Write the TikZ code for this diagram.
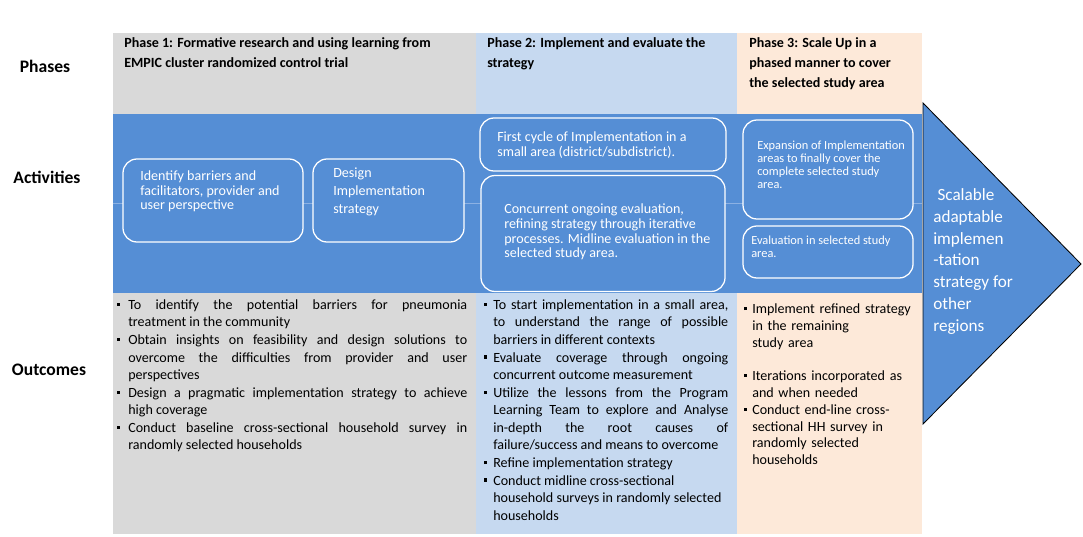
\documentclass[tikz,border=0pt]{standalone}
\usepackage{fontspec}
\setmainfont{Carlito}
\usetikzlibrary{positioning}
\definecolor{phaseGray}{RGB}{217,217,217}
\definecolor{phaseBlue}{RGB}{198,217,240}
\definecolor{phasePeach}{RGB}{253,233,217}
\definecolor{bandBlue}{RGB}{85,142,213}
\definecolor{lineBlue}{RGB}{140,177,227}
\newlength{\bulind}
\newcommand{\bitem}{\par\noindent\hangindent=\bulind\hangafter=1%
  \makebox[\bulind][l]{\raisebox{0.25em}{\rule{2.2pt}{2.2pt}}}}
\newcommand{\nohyph}{\hyphenpenalty=10000\relax\exhyphenpenalty=10000\relax\tolerance=9999\relax}
\tikzset{
  colBox/.style={fill=#1,inner sep=0pt,outer sep=0pt,minimum height=125.25mm},
  actBox/.style={draw=white,fill=bandBlue,line width=0.9pt,rounded corners=3.5mm,
                 inner sep=0pt,minimum height=#1},
  actText/.style={anchor=north west,inner sep=0pt,text=white,align=left,
                  font=\fontsize{10}{10.3}\selectfont},
  hdrText/.style={anchor=north west,inner sep=0pt,align=left,
                  font=\fontsize{10}{14.2}\selectfont\bfseries},
  rowLabel/.style={inner sep=0pt,font=\fontsize{12.5}{15}\selectfont\bfseries},
  outText/.style={anchor=north west,inner sep=0pt,text width=#1,
                  font=\fontsize{10}{12.5}\selectfont},
}

\begin{document}
\begin{tikzpicture}[x=0.25mm,y=-0.25mm]
  \useasboundingbox[fill=white] (0,0) rectangle (1083,537);
  % phase columns
  \node[colBox=phaseGray,minimum width=90.75mm](col1) at (294.5,283.5){};
  \node[colBox=phaseBlue,minimum width=65.25mm](col2) at (606.5,283.5){};
  \node[colBox=phasePeach,minimum width=46.25mm](col3) at (829.5,283.5){};
  % activities band
  \node[fill=bandBlue,inner sep=0pt,outer sep=0pt,minimum width=202.25mm,
        minimum height=44.75mm](band) at (517.5,203.5){};
  \draw[lineBlue,line width=0.6pt](band.west)--(band.east);
  % row labels
  \node[rowLabel](lPhases) at (45,66){Phases};
  \node[rowLabel](lAct) at (47,177){Activities};
  \node[rowLabel](lOut) at (49,370){Outcomes};
  % headers
  \node[hdrText](h1) at (124,37.5)
      {Phase 1: Formative research and using learning from\\EMPIC cluster randomized control trial};
  \node[hdrText](h2) at (487,37.5){Phase 2: Implement and evaluate the\\strategy};
  \node[hdrText](h3) at (749,37.5){Phase 3: Scale Up in a\\phased manner to cover\\the selected study area};
  % activity boxes
  \node[actBox=20.75mm,minimum width=45mm](a1) at (213,200.5){};
  \node[actBox=20.75mm,minimum width=37.75mm](a2) at (388.5,200.5){};
  \node[actBox=13.25mm,minimum width=61.5mm](b1) at (603,144.5){};
  \node[actBox=29mm,minimum width=61mm](b2) at (603,233.5){};
  \node[actBox=24.75mm,minimum width=42.5mm](c1) at (828,169.5){};
  \node[actBox=13mm,minimum width=42.5mm](c2) at (828,252){};
  \node[actText](a1t) at (140,170.5){Identify barriers and\\facilitators, provider and\\user perspective};
  \node[actText,font=\fontsize{10}{12.8}\selectfont](a2t) at (333,167.5){Design\\Implementation\\strategy};
  \node[actText](b1t) at (497,131.5){First cycle of Implementation in a\\small area (district/subdistrict).};
  \node[actText,font=\fontsize{10}{10.5}\selectfont](b2t) at (504,203.5)
      {Concurrent ongoing evaluation,\\refining strategy through iterative\\processes. Midline evaluation in the\\selected study area.};
  \node[actText,font=\fontsize{8.8}{9.25}\selectfont](c1t) at (757,140.5)
      {Expansion of Implementation\\areas to finally cover the\\complete selected study\\area.};
  \node[actText,font=\fontsize{8.8}{9.25}\selectfont](c2t) at (751,235.5){Evaluation in selected study\\area.};
  % outcomes
  \node[outText=87.5mm,align=justify](o1) at (117,291.5){\nohyph\setlength{\bulind}{2.75mm}%
    \bitem To identify the potential barriers for pneumonia\linebreak treatment in the community
    \bitem Obtain insights on feasibility and design solutions to\linebreak overcome the difficulties from provider and user\linebreak perspectives
    \bitem Design a pragmatic implementation strategy to achieve\linebreak high coverage
    \bitem Conduct baseline cross-sectional household survey in\linebreak randomly selected households\par};
  \node[outText=61mm,align=justify](o2) at (484,291.5){\nohyph\setlength{\bulind}{2.25mm}%
    \bitem To start implementation in a small area,\linebreak to understand the range of possible\linebreak barriers in different contexts
    \bitem Evaluate coverage through ongoing\linebreak concurrent outcome measurement
    \bitem Utilize the lessons from the Program\linebreak Learning Team to explore and Analyse\linebreak in-depth the root causes of\linebreak failure/success and means to overcome
    \bitem Refine implementation strategy
    \bitem Conduct midline cross-sectional\newline household surveys in randomly selected\newline households\par};
  \node[outText=43.75mm,align=left,font=\fontsize{10}{12}\selectfont](o3) at (744,296.5){\nohyph\setlength{\bulind}{2mm}%
    \bitem Implement refined strategy\newline in the remaining\newline study area\par\vspace{11.5pt}
    \bitem Iterations incorporated as\newline and when needed
    \bitem Conduct end-line cross-\newline sectional HH survey in\newline randomly selected\newline households\par};
  % result arrow
  \coordinate(tTop) at (923,103);
  \coordinate(tTip) at (1081,264);
  \coordinate(tBot) at (923,424);
  \draw[fill=bandBlue,draw=black,line width=0.6pt](tTop)--(tTip)--(tBot)--cycle;
  \node[actText,font=\fontsize{12.2}{15.6}\selectfont](res) at (933,188)
      {\hspace*{3pt}Scalable\\adaptable\\implemen\\-tation\\strategy for\\other\\regions};
\end{tikzpicture}
\end{document}
